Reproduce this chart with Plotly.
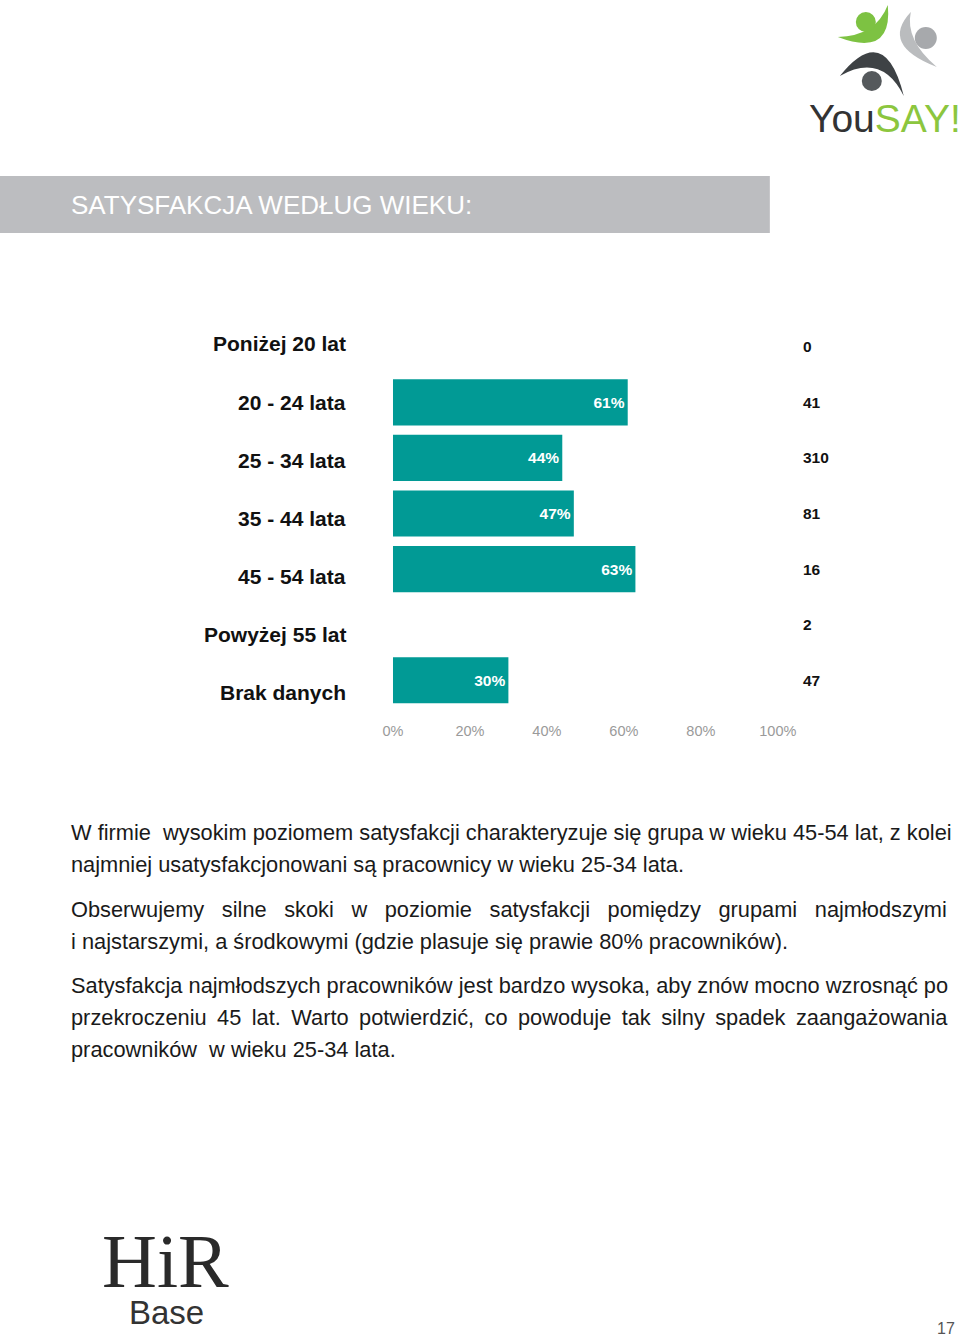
import plotly.graph_objects as go

W, H = 960, 1336

categories = ["Poniżej 20 lat", "20 - 24 lata", "25 - 34 lata", "35 - 44 lata",
              "45 - 54 lata", "Powyżej 55 lat", "Brak danych"]
satisfaction = [None, 61, 44, 47, 63, None, 30]
counts = [0, 41, 310, 81, 16, 2, 47]
tick_vals = [0, 20, 40, 60, 80, 100]
tick_text = ["0%", "20%", "40%", "60%", "80%", "100%"]

title_text = "SATYSFAKCJA WEDŁUG WIEKU:"
SP2 = "\u2005\u00a0 "
TH = "\u2009 "
paragraph_lines = [
    "W firmie\u00a0 wysokim poziomem satysfakcji charakteryzuje się grupa w wieku 45-54 lat, z kolei",
    "najmniej usatysfakcjonowani są pracownicy w wieku 25-34 lata.",
    SP2.join(["Obserwujemy", "silne", "skoki", "w", "poziomie", "satysfakcji", "pomiędzy", "grupami", "najmłodszymi"]),
    "i najstarszymi, a środkowymi (gdzie plasuje się prawie 80% pracowników).",
    "Satysfakcja najmłodszych pracowników jest bardzo wysoka, aby znów mocno wzrosnąć po",
    TH.join(["przekroczeniu", "45", "lat.", "Warto", "potwierdzić,", "co", "powoduje", "tak", "silny", "spadek", "zaangażowania"]),
    "pracowników\u00a0 w wieku 25-34 lata.",
]
paragraph_y = [832, 864, 909, 941, 985, 1017, 1049]

TEAL = "#019A95"
SANS = "Liberation Sans, Arial, sans-serif"

# the rendered page maps horizontal paper position p to about 10 + 0.970*960*p pixels
SX, OX = 0.970, 10.0


def px(x):
    return (x - OX) / SX / W


def py(y):
    return 1 - y / H


fig = go.Figure()
fig.add_trace(go.Bar(
    y=categories,
    x=satisfaction,
    orientation="h",
    marker=dict(color=TEAL, line=dict(width=0)),
    text=[f"{v}%" if v is not None else "" for v in satisfaction],
    textposition="inside",
    insidetextanchor="end",
    textfont=dict(color="white", size=15.5, family=SANS, weight="bold"),
    cliponaxis=False,
    hoverinfo="skip",
))

annotations = []
for i, c in enumerate(categories):
    annotations.append(dict(
        x=px(348), y=py(344 + 58 * i), xref="paper", yref="paper",
        text=c, showarrow=False, xanchor="right", yanchor="middle",
        font=dict(size=21, color="#111111", family=SANS, weight="bold"),
    ))
for c, n in zip(categories, counts):
    annotations.append(dict(
        x=px(801), y=c, xref="paper", yref="y",
        text=str(n), showarrow=False, xanchor="left", yanchor="middle",
        font=dict(size=15.5, color="#111111", family=SANS, weight="bold"),
    ))
annotations.append(dict(
    x=px(69), y=py(205), xref="paper", yref="paper", text=title_text,
    showarrow=False, xanchor="left", yanchor="middle",
    font=dict(size=26, color="white", family=SANS),
))
for line, yy in zip(paragraph_lines, paragraph_y):
    annotations.append(dict(
        x=px(69), y=py(yy), xref="paper", yref="paper", text=line,
        showarrow=False, xanchor="left", yanchor="middle",
        font=dict(size=21.8, color="#1a1a1a", family=SANS),
    ))
annotations.append(dict(
    x=px(807), y=py(119), xref="paper", yref="paper",
    text="<span style='color:#333333'>You</span><span style='color:#8CC63E'>SAY!</span>",
    showarrow=False, xanchor="left", yanchor="middle",
    font=dict(size=39, family=SANS),
))
annotations.append(dict(
    x=px(166), y=py(1261), xref="paper", yref="paper", text="HiR",
    showarrow=False, xanchor="center", yanchor="middle",
    font=dict(size=76, color="#2a2a2a", family="Liberation Serif, serif"),
))
annotations.append(dict(
    x=px(167), y=py(1312), xref="paper", yref="paper", text="Base",
    showarrow=False, xanchor="center", yanchor="middle",
    font=dict(size=33, color="#333333", family=SANS),
))
annotations.append(dict(
    x=px(957), y=py(1328), xref="paper", yref="paper", text="17",
    showarrow=False, xanchor="right", yanchor="middle",
    font=dict(size=16, color="#555555", family=SANS),
))


def qpath(p0, c1, p1, c2):
    f = lambda p: f"{px(p[0]):.5f},{py(p[1]):.5f}"
    return f"M {f(p0)} Q {f(c1)} {f(p1)} Q {f(c2)} {f(p0)} Z"


def circle(cx, cy, r, color):
    return dict(type="circle", xref="paper", yref="paper", x0=px(cx - r), x1=px(cx + r),
                y0=py(cy + r), y1=py(cy - r), fillcolor=color, line=dict(width=0))


shapes = [
    dict(type="rect", xref="paper", yref="paper", x0=px(0), x1=px(770), y0=py(233), y1=py(176),
         fillcolor="#BCBDC0", line=dict(width=0), layer="below"),
    # green figure
    dict(type="path", xref="paper", yref="paper",
         path=qpath((838, 37), (876, 36), (888, 5), (893, 58)),
         fillcolor="#7DC242", line=dict(width=0)),
    circle(866, 22, 10, "#7DC242"),
    # light gray figure
    dict(type="path", xref="paper", yref="paper",
         path=qpath((911, 12), (880, 45), (937, 67), (905, 40)),
         fillcolor="#BABCBE", line=dict(width=0)),
    circle(926, 38, 11, "#A7A9AC"),
    # dark figure
    dict(type="path", xref="paper", yref="paper",
         path=qpath((840, 76), (885, 20), (904, 96), (882, 52)),
         fillcolor="#3E4245", line=dict(width=0)),
    circle(872, 81, 10, "#55595C"),
]

fig.update_layout(
    width=W, height=H, autosize=False,
    margin=dict(l=0, r=0, t=0, b=0, pad=0),
    paper_bgcolor="white", plot_bgcolor="white",
    showlegend=False,
    bargap=0.17,
    xaxis=dict(domain=[px(393), px(778)], range=[0, 100], tickvals=tick_vals, ticktext=tick_text,
               showgrid=False, zeroline=False, showline=False,
               ticks="outside", ticklen=10, tickcolor="white",
               tickfont=dict(size=14.5, color="#9a9a9a", family=SANS),
               fixedrange=True),
    yaxis=dict(domain=[py(708), py(319)], categoryorder="array", categoryarray=categories,
               autorange="reversed", showticklabels=False, showgrid=False, zeroline=False,
               showline=False, fixedrange=True),
    annotations=annotations,
    shapes=shapes,
)

fig.write_html("out.html", config={"responsive": False, "displayModeBar": False})
